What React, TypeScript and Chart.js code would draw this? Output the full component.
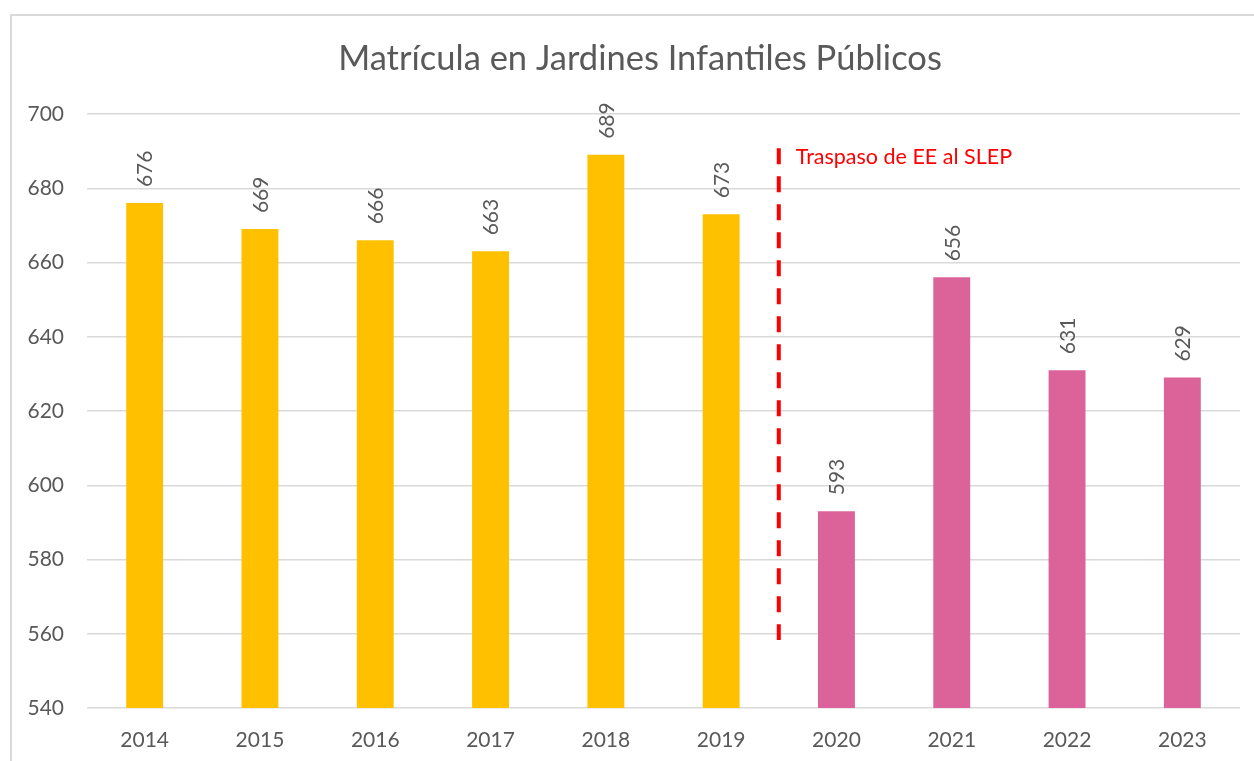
import React, { useEffect, useRef } from "react";
import { Chart, registerables } from "chart.js";

Chart.register(...registerables);

const title = "Matrícula en Jardines Infantiles Públicos";
const years = ["2014", "2015", "2016", "2017", "2018", "2019", "2020", "2021", "2022", "2023"];
const enrollment = [676, 669, 666, 663, 689, 673, 593, 656, 631, 629];
const transferIndex = 6; // first year after the transfer (2020)
const transferLabel = "Traspaso de EE al SLEP";
const transferLineRange = [558.3, 690.8];
const yMin = 540;
const yMax = 700;
const yStep = 20;

const YELLOW = "#FFC000";
const PINK = "#DC6399";
const TEXT = "#595959";
const FONT = "Lato, 'Open Sans', sans-serif";

export default function App() {
  const ref = useRef<HTMLCanvasElement | null>(null);

  useEffect(() => {
    const canvas = ref.current;
    if (!canvas) return;

    const decorPlugin = {
      id: "decor",
      beforeDraw(chart: any) {
        const ctx = chart.ctx;
        ctx.save();
        ctx.fillStyle = "#ffffff";
        ctx.fillRect(0, 0, chart.width, chart.height);
        ctx.strokeStyle = "#d9d9d9";
        ctx.lineWidth = 2;
        ctx.beginPath();
        ctx.moveTo(11, chart.height + 2);
        ctx.lineTo(11, 15);
        ctx.lineTo(chart.width + 2, 15);
        ctx.stroke();
        // title
        ctx.fillStyle = TEXT;
        ctx.font = `34.5px ${FONT}`;
        ctx.textAlign = "center";
        ctx.textBaseline = "middle";
        ctx.fillText(title, 640, 59);
        ctx.restore();
      },
      afterDatasetsDraw(chart: any) {
        const ctx = chart.ctx;
        const meta = chart.getDatasetMeta(0);
        ctx.save();
        ctx.fillStyle = TEXT;
        ctx.font = `21px ${FONT}`;
        ctx.textAlign = "left";
        ctx.textBaseline = "middle";
        meta.data.forEach((bar: any, i: number) => {
          ctx.save();
          ctx.translate(bar.x, bar.y - 16);
          ctx.rotate(-Math.PI / 2);
          ctx.fillText(String(enrollment[i]), 0, 1);
          ctx.restore();
        });
        // transfer line
        const xs = chart.scales.x;
        const ys = chart.scales.y;
        const lx = (xs.getPixelForValue(transferIndex - 1) + xs.getPixelForValue(transferIndex)) / 2;
        ctx.strokeStyle = "#FF0000";
        ctx.lineWidth = 4;
        ctx.setLineDash([16, 12]);
        ctx.beginPath();
        ctx.moveTo(lx, ys.getPixelForValue(transferLineRange[1]));
        ctx.lineTo(lx, ys.getPixelForValue(transferLineRange[0]));
        ctx.stroke();
        ctx.setLineDash([]);
        ctx.fillStyle = "#FF0000";
        ctx.font = `21.5px ${FONT}`;
        ctx.textAlign = "left";
        ctx.textBaseline = "middle";
        ctx.fillText(transferLabel, lx + 17, ys.getPixelForValue(transferLineRange[1]) + 9);
        ctx.restore();
      },
    };

    const chart = new Chart(canvas, {
      type: "bar",
      data: {
        labels: years,
        datasets: [
          {
            data: enrollment,
            backgroundColor: years.map((_, i) => (i >= transferIndex ? PINK : YELLOW)),
            barPercentage: 0.32,
            categoryPercentage: 1,
          },
        ],
      },
      options: {
        animation: false,
        responsive: false,
        maintainAspectRatio: false,
        layout: { padding: { top: 114, right: 14, left: 0, bottom: 0 } },
        plugins: {
          legend: { display: false },
          title: { display: false },
          tooltip: { enabled: false },
        },
        scales: {
          x: {
            grid: { display: false, drawTicks: false },
            border: { display: false },
            ticks: { color: TEXT, font: { family: FONT, size: 21 }, padding: 20 },
            afterFit(scale: any) {
              scale.height = 53;
            },
          },
          y: {
            min: yMin,
            max: yMax,
            ticks: { stepSize: yStep, color: TEXT, font: { family: FONT, size: 21 }, padding: 23 },
            grid: { color: "#d9d9d9", lineWidth: 1.5, drawTicks: false },
            border: { display: false },
            afterFit(scale: any) {
              scale.width = 87;
            },
          },
        },
      },
      plugins: [decorPlugin],
    });

    return () => chart.destroy();
  }, []);

  return (
    <div style={{ position: "fixed", left: 0, top: 0, width: 1254, height: 761, background: "#fff" }}>
      <canvas ref={ref} width={1254} height={761} style={{ width: 1254, height: 761, display: "block" }} />
    </div>
  );
}
